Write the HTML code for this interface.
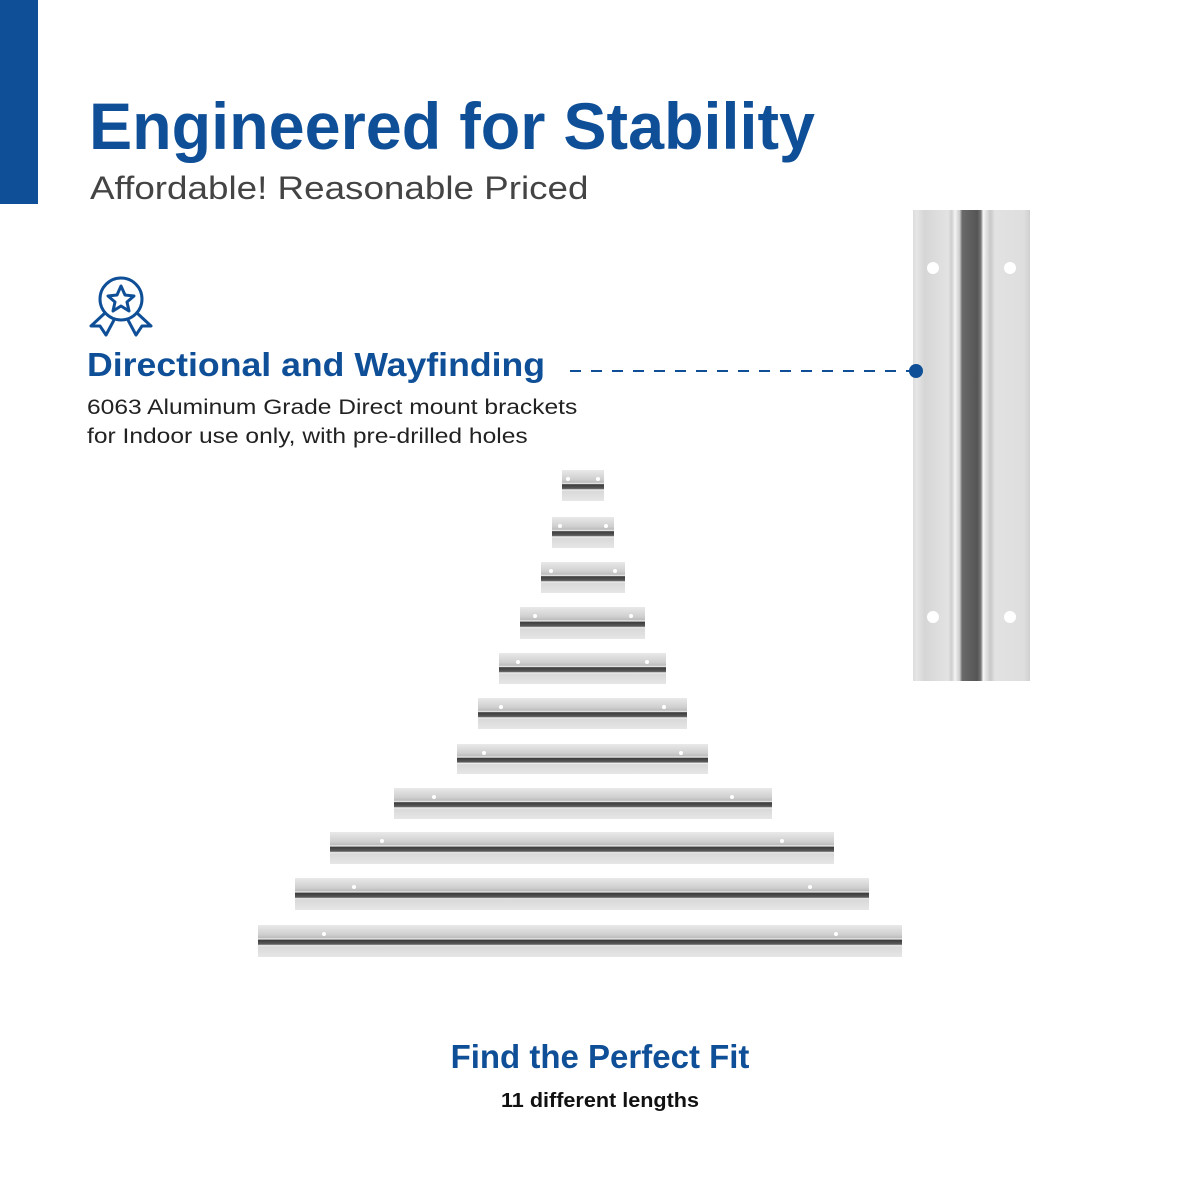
<!DOCTYPE html>
<html><head><meta charset="utf-8"><style>
body{margin:0;width:1200px;height:1200px;background:#fff;position:relative;overflow:hidden;font-family:"Liberation Sans",sans-serif}
.abs{position:absolute}
.t{white-space:nowrap;transform-origin:0 0}
.br{position:absolute;background:linear-gradient(#e9e9e9 0%,#cfcfcf 30%,#bdbdbd 40%,#f5f5f5 44%,#3c3c3c 47%,#5a5a5a 60%,#f2f2f2 64%,#d9d9d9 68%,#e6e6e6 100%)}
.br:before,.br:after{content:"";position:absolute;width:4px;height:4px;border-radius:50%;background:#fff;top:22%}
.br:before{left:10%}.br:after{right:10%}
</style></head><body>
<div class="abs" style="left:0;top:0;width:38px;height:204px;background:#0f4f97"></div>
<div class="abs t" style="left:89px;top:88px;font-size:66px;font-weight:bold;color:#0f4f97;transform:scaleX(0.98)">Engineered for Stability</div>
<div class="abs t" style="left:90px;top:170px;font-size:32px;color:#444;transform:scaleX(1.15)">Affordable! Reasonable Priced</div>
<svg class="abs" style="left:86px;top:270px" width="70" height="68" viewBox="0 0 70 68">
<g fill="none" stroke="#0f4f97" stroke-width="3" stroke-linejoin="round">
<circle cx="35" cy="29" r="21"/>
<polygon points="35,16 39,25 48,26 41,32 43,41 35,36 27,41 29,32 22,26 31,25"/>
<path d="M19,43 L5,56 L14,56 L20,65 L28,50"/>
<path d="M51,43 L65,56 L56,56 L50,65 L42,50"/>
</g></svg>
<div class="abs t" style="left:87px;top:346px;font-size:33px;font-weight:bold;color:#0f4f97;transform:scaleX(1.08)">Directional and Wayfinding</div>
<div class="abs t" style="left:87px;top:393px;font-size:21px;color:#222;line-height:29px;transform:scaleX(1.17)">6063 Aluminum Grade Direct mount brackets<br>for Indoor use only, with pre-drilled holes</div>
<svg class="abs" style="left:570px;top:369px" width="345" height="4"><line x1="0" y1="2" x2="345" y2="2" stroke="#0f4f97" stroke-width="2" stroke-dasharray="11,10"/></svg>
<div class="abs" style="left:909px;top:364px;width:14px;height:14px;border-radius:50%;background:#0f4f97;z-index:2"></div>
<div class="abs" style="left:913px;top:210px;width:117px;height:471px;background:linear-gradient(90deg,#dcdcdc 0%,#e6e6e6 3%,#d6d6d6 10%,#e3e3e3 30%,#cfcfcf 33%,#f4f4f4 36%,#c9c9c9 40%,#6a6a6a 42%,#555 55%,#777 58%,#f6f6f6 60%,#c8c8c8 66%,#e2e2e2 70%,#dedede 95%,#cfcfcf 100%)"></div>
<div class="abs" style="left:927px;top:262px;width:12px;height:12px;border-radius:50%;background:#fff"></div>
<div class="abs" style="left:1004px;top:262px;width:12px;height:12px;border-radius:50%;background:#fff"></div>
<div class="abs" style="left:927px;top:611px;width:12px;height:12px;border-radius:50%;background:#fff"></div>
<div class="abs" style="left:1004px;top:611px;width:12px;height:12px;border-radius:50%;background:#fff"></div>
<div class="br" style="left:562px;top:470px;width:42px;height:31px"></div>
<div class="br" style="left:552px;top:517px;width:62px;height:31px"></div>
<div class="br" style="left:541px;top:562px;width:84px;height:31px"></div>
<div class="br" style="left:520px;top:607px;width:125px;height:32px"></div>
<div class="br" style="left:499px;top:653px;width:167px;height:31px"></div>
<div class="br" style="left:478px;top:698px;width:209px;height:31px"></div>
<div class="br" style="left:457px;top:744px;width:251px;height:30px"></div>
<div class="br" style="left:394px;top:788px;width:378px;height:31px"></div>
<div class="br" style="left:330px;top:832px;width:504px;height:32px"></div>
<div class="br" style="left:295px;top:878px;width:574px;height:32px"></div>
<div class="br" style="left:258px;top:925px;width:644px;height:32px"></div>
<div class="abs t" style="left:0;width:1200px;text-align:center;top:1038px;font-size:33px;font-weight:bold;color:#0f4f97">Find the Perfect Fit</div>
<div class="abs t" style="left:0;width:1200px;text-align:center;top:1090px;font-size:20px;font-weight:bold;color:#111;transform-origin:600px 0;transform:scaleX(1.08)">11 different lengths</div>
</body></html>
